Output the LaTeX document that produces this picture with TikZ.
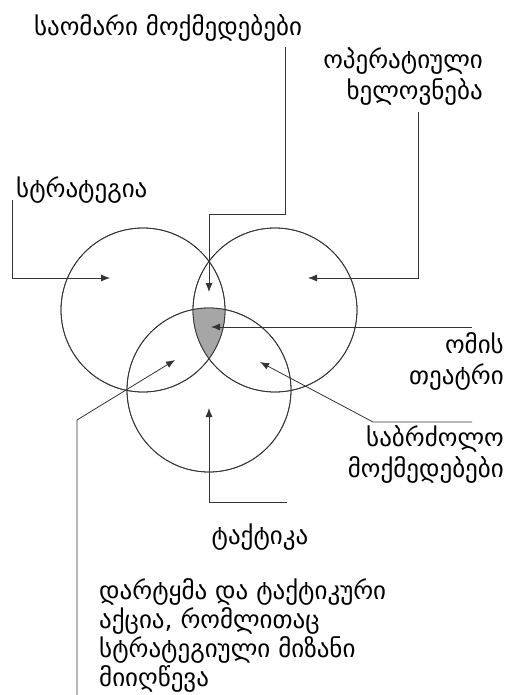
\documentclass[tikz,border=0pt]{standalone}
\usepackage{fontspec}
\setmainfont{DejaVu Sans}
\usetikzlibrary{arrows.meta,positioning}

\begin{document}
\begin{tikzpicture}[
    x=1pt, y=-1pt,
    ring/.style={draw=black!80, line width=0.8pt, circle, minimum size=164pt, inner sep=0pt},
    lbl/.style={inner sep=0pt, font=\fontsize{25}{31}\selectfont},
    arr/.style={-{Latex[length=9pt,width=7pt]}, draw=black!80, line width=0.8pt}
]
\useasboundingbox (0,0) rectangle (507,695);
% the three circles
\node[ring] (left) at (143,310) {};
\node[ring] (right) at (275,310) {};
\node[ring] (bottom) at (209,390) {};
% shaded common part
\begin{scope}
  \clip (143,310) circle (82);
  \clip (275,310) circle (82);
  \fill[black!35] (209,390) circle (82);
\end{scope}
\node[ring] at (left.center) {};
\node[ring] at (right.center) {};
\node[ring] at (bottom.center) {};

% labels
\node[lbl] (war) at (168,28) {საომარი მოქმედებები};
\node[lbl, align=right, anchor=east] (oper) at (483,77) {ოპერატიული\\ხელოვნება};
\node[lbl, anchor=west] (strat) at (16,190) {სტრატეგია};
\node[lbl, align=right, anchor=east] (theatre) at (504,361) {ომის\\თეატრი};
\node[lbl, align=right, anchor=east] (battle) at (504,454) {საბრძოლო\\მოქმედებები};
\node[lbl] (tact) at (260,537) {ტაქტიკა};
\node[lbl, align=left, anchor=north west, font=\fontsize{25}{29}\selectfont] (strike) at (99,578) {დარტყმა და ტაქტიკური\\აქცია, რომლითაც\\სტრატეგიული მიზანი\\მიიღწევა};

% connector ends
\coordinate (stratS) at (12,200);
\coordinate (stratT) at (110,278);
\coordinate (warS) at (285,47);
\coordinate (warK) at (209,214);
\coordinate (warT) at (209,292);
\coordinate (operS) at (418,112);
\coordinate (operT) at (308,278);
\coordinate (theatreS) at (472,327);
\coordinate (theatreT) at (211,327);
\coordinate (battleS) at (472,422);
\coordinate (battleK) at (373,422);
\coordinate (battleT) at (260,362);
\coordinate (tactS) at (287,502);
\coordinate (tactT) at (209,408);
\coordinate (strikeS) at (77,695);
\coordinate (strikeK) at (77,420);
\coordinate (strikeT) at (175,360);

% connectors
\draw[arr] (stratS) |- (stratT);
\draw[arr] (warS) |- (warK) -- (warT);
\draw[arr] (operS) |- (operT);
\draw[arr] (theatreS) -- (theatreT);
\draw[arr] (battleS) -- (battleK) -- (battleT);
\draw[arr] (tactS) -| (tactT);
\draw[arr] (strikeS) -- (strikeK) -- (strikeT);
\end{tikzpicture}
\end{document}
